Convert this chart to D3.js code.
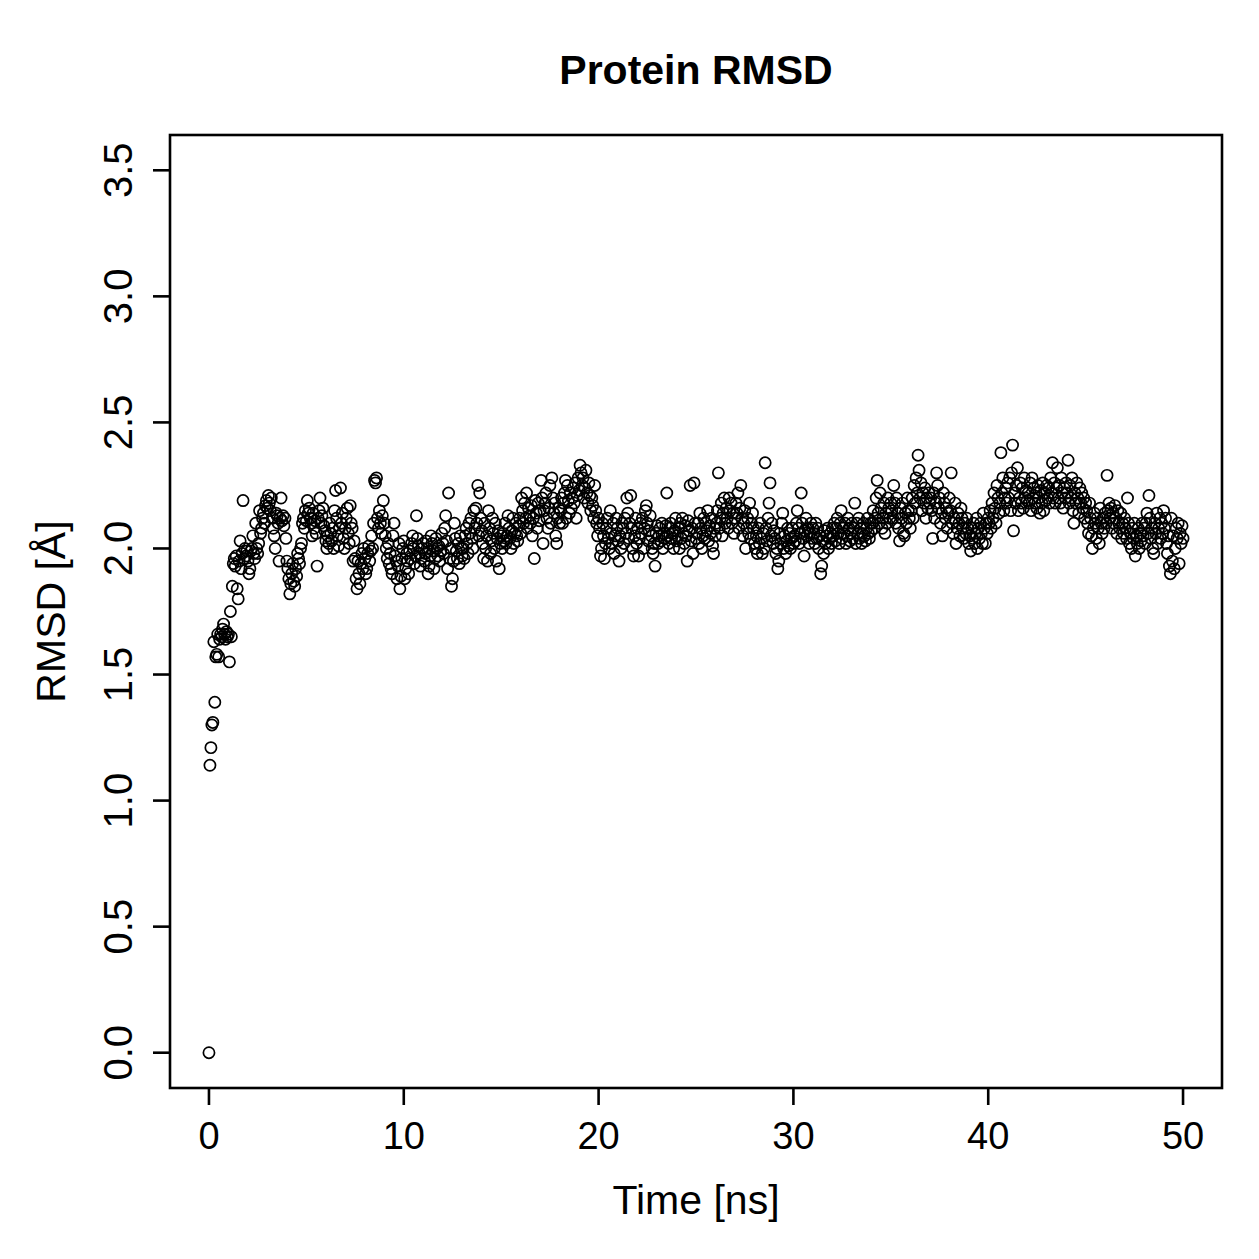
<!DOCTYPE html>
<html><head><meta charset="utf-8">
<script src="https://cdn.jsdelivr.net/npm/d3@7"></script>
<style>body{margin:0;background:#fff}svg{display:block}text{font-family:"Liberation Sans",Arial,sans-serif;fill:#000}</style>
</head><body>
<svg id="c" width="1259" height="1259"></svg>
<script>
const title = "Protein RMSD";
const xLabel = "Time [ns]";
const yLabel = "RMSD [Å]";
const xTicks = [0, 10, 20, 30, 40, 50];
const yTicks = [0.0, 0.5, 1.0, 1.5, 2.0, 2.5, 3.0, 3.5];
const timeStep = 0.05; // ns between frames
const rmsd = [0.00,
1.14,1.21,1.30,1.31,1.63,1.39,1.57,1.58,1.66,1.57,1.64,1.66,1.65,1.68,1.70,1.66,1.64,1.67,1.65,1.66,
1.55,1.75,1.65,1.85,1.94,1.96,1.93,1.97,1.84,1.80,1.95,2.03,1.92,1.98,2.19,1.96,2.00,1.97,1.99,1.95,
1.90,1.92,1.99,2.00,2.05,1.98,1.96,2.10,2.00,1.98,2.02,2.15,2.06,2.08,2.12,2.14,2.10,2.17,2.19,2.16,
2.21,2.18,2.15,2.20,2.12,2.08,2.05,2.00,2.14,2.13,2.10,1.95,2.12,2.20,2.11,2.13,2.09,2.12,2.04,1.95,
1.92,1.88,1.82,1.86,1.90,1.94,1.87,1.85,1.92,1.89,1.98,1.96,1.94,2.00,2.02,2.10,2.12,2.08,2.15,2.11,
2.19,2.14,2.16,2.12,2.10,2.05,2.14,2.08,2.11,2.06,1.93,2.12,2.15,2.20,2.10,2.13,2.16,2.09,2.07,2.03,
2.00,2.05,2.02,2.10,2.06,2.03,2.08,2.00,2.15,2.23,2.12,2.05,2.01,2.08,2.24,2.10,2.14,2.04,2.00,2.08,
2.12,2.16,2.06,2.02,2.17,2.10,2.08,1.95,2.03,1.96,1.88,1.84,1.95,1.90,1.86,1.94,1.98,1.92,2.00,1.96,
1.90,1.92,1.98,2.01,1.95,1.99,2.05,2.00,2.10,2.27,2.26,2.28,2.12,2.08,2.15,2.10,2.06,2.13,2.19,2.10,
2.05,2.00,1.96,2.02,1.94,1.98,1.92,1.90,2.05,2.10,1.97,1.95,1.88,1.93,2.02,1.84,1.89,1.96,2.00,2.03,
1.88,1.92,1.98,1.95,1.90,1.99,1.96,2.02,2.05,2.00,1.94,1.97,2.13,2.04,2.01,1.98,1.93,1.96,2.00,2.02,
1.95,1.98,2.03,2.00,1.90,1.93,1.97,2.05,2.02,1.99,1.92,1.96,2.04,2.00,1.97,2.01,1.95,1.99,2.06,2.02,
1.98,2.08,2.13,2.03,1.92,2.22,1.96,2.00,1.85,1.88,1.95,2.10,2.04,1.99,1.96,2.02,1.94,2.05,2.00,1.97,
2.00,1.96,2.05,2.08,2.02,1.98,2.10,2.06,2.12,2.04,2.00,2.15,2.08,2.16,2.10,2.25,2.05,2.22,2.12,2.07,
2.02,1.96,2.10,2.00,2.05,1.95,2.15,2.08,1.98,2.03,2.12,2.06,2.00,2.10,1.95,2.04,2.07,1.92,2.02,2.05,
2.00,2.06,2.03,2.10,2.02,2.05,2.13,2.08,2.04,2.00,2.07,2.12,2.02,2.06,2.10,2.05,2.03,2.09,2.12,2.06,
2.20,2.15,2.10,2.18,2.12,2.22,2.08,2.16,2.13,2.10,2.17,2.05,2.12,1.96,2.19,2.14,2.08,2.18,2.11,2.15,
2.27,2.20,2.02,2.15,2.18,2.22,2.12,2.08,2.16,2.25,2.10,2.28,2.20,2.14,2.18,2.05,2.02,2.12,2.16,2.10,
2.15,2.20,2.10,2.18,2.22,2.27,2.12,2.25,2.19,2.14,2.22,2.16,2.20,2.24,2.18,2.26,2.12,2.21,2.28,2.23,
2.33,2.30,2.25,2.28,2.20,2.24,2.31,2.22,2.18,2.26,2.21,2.15,2.20,2.17,2.12,2.25,2.15,2.10,2.05,2.12,
2.08,1.97,2.00,2.10,2.05,1.96,2.02,2.08,2.12,2.04,2.00,2.15,2.06,2.02,2.10,1.98,2.05,2.12,2.08,2.03,
1.95,2.05,2.00,2.10,2.08,2.02,2.12,2.06,2.20,2.14,2.04,2.10,2.21,2.08,2.00,1.97,2.05,2.12,2.02,2.08,
1.97,2.04,2.10,2.06,2.12,2.00,2.08,2.15,2.17,2.10,2.03,2.07,2.13,2.05,2.00,1.98,2.02,1.93,2.06,2.09,
2.02,2.05,2.08,2.03,2.10,2.00,2.06,2.04,2.09,2.22,2.05,2.02,2.08,2.10,2.04,2.06,2.00,2.07,2.12,2.03,
2.05,2.08,2.00,2.10,2.04,2.12,2.06,2.02,2.09,2.05,1.95,2.11,2.07,2.25,2.03,2.08,1.98,2.26,2.10,2.04,
2.06,2.10,2.02,2.14,2.08,2.00,2.05,2.12,2.04,2.10,2.07,2.15,2.03,2.09,2.06,2.12,2.01,1.98,2.08,2.05,
2.10,2.15,2.30,2.08,2.12,2.18,2.05,2.14,2.20,2.10,2.16,2.12,2.08,2.20,2.15,2.18,2.10,2.14,2.06,2.12,
2.18,2.14,2.22,2.08,2.16,2.25,2.12,2.05,2.10,2.15,2.00,2.08,2.12,2.06,2.18,2.04,2.10,2.14,2.08,2.02,
2.00,2.05,1.98,2.08,2.02,2.10,2.04,1.98,2.06,2.00,2.34,2.08,2.03,2.12,2.18,2.26,2.05,2.10,2.02,2.07,
2.04,1.98,2.00,1.92,1.95,2.06,2.02,2.10,2.14,2.00,2.05,1.98,2.03,2.08,2.01,2.06,2.00,2.04,2.08,2.02,
2.05,2.03,2.10,2.15,2.08,2.02,2.06,2.22,2.10,2.04,1.97,2.07,2.12,2.05,2.08,2.02,2.06,2.10,2.04,2.08,
2.06,2.02,2.10,2.04,2.08,2.00,2.05,1.90,1.93,2.03,1.98,2.07,2.02,2.05,2.08,2.00,2.04,2.06,2.02,2.08,
2.05,2.10,2.03,2.08,2.12,2.06,2.02,2.10,2.15,2.04,2.08,2.06,2.10,2.02,2.05,2.12,2.08,2.03,2.06,2.10,
2.04,2.08,2.18,2.02,2.10,2.06,2.12,2.04,2.08,2.02,2.06,2.10,2.05,2.03,2.08,2.12,2.06,2.04,2.10,2.07,
2.10,2.15,2.08,2.12,2.20,2.27,2.14,2.10,2.22,2.16,2.08,2.12,2.18,2.06,2.14,2.10,2.20,2.16,2.12,2.18,
2.15,2.12,2.25,2.18,2.10,2.20,2.14,2.08,2.03,2.16,2.12,2.18,2.06,2.05,2.14,2.10,2.20,2.15,2.12,2.08,
2.15,2.20,2.12,2.25,2.18,2.28,2.22,2.37,2.31,2.20,2.26,2.15,2.22,2.18,2.24,2.12,2.20,2.16,2.22,2.18,
2.20,2.15,2.04,2.22,2.12,2.18,2.30,2.25,2.16,2.20,2.10,2.14,2.05,2.22,2.18,2.12,2.16,2.08,2.14,2.20,
2.15,2.30,2.10,2.06,2.12,2.18,2.02,2.08,2.14,2.10,2.05,2.16,2.12,2.08,2.04,2.10,2.06,2.12,2.08,2.02,
2.05,1.99,2.08,2.04,2.10,2.02,2.06,2.12,2.00,2.08,2.04,2.10,2.06,2.02,2.14,2.08,2.02,2.10,2.06,2.12,
2.10,2.15,2.08,2.18,2.12,2.22,2.16,2.10,2.25,2.20,2.14,2.18,2.38,2.22,2.28,2.15,2.20,2.24,2.18,2.26,
2.20,2.28,2.15,2.30,2.41,2.07,2.22,2.18,2.25,2.32,2.15,2.20,2.26,2.18,2.24,2.16,2.28,2.20,2.23,2.19,
2.22,2.18,2.26,2.15,2.28,2.20,2.24,2.18,2.22,2.16,2.25,2.20,2.14,2.23,2.18,2.26,2.15,2.22,2.19,2.25,
2.20,2.24,2.18,2.28,2.22,2.34,2.20,2.26,2.18,2.24,2.32,2.20,2.25,2.18,2.28,2.22,2.16,2.24,2.20,2.26,
2.22,2.35,2.18,2.25,2.20,2.28,2.15,2.10,2.22,2.18,2.26,2.20,2.14,2.24,2.18,2.22,2.16,2.20,2.12,2.18,
2.15,2.10,2.06,2.18,2.12,2.05,2.00,2.08,2.14,2.10,2.04,2.12,2.08,2.02,2.16,2.10,2.06,2.12,2.08,2.14,
2.10,2.29,2.15,2.18,2.12,2.16,2.08,2.14,2.10,2.17,2.12,2.06,2.15,2.10,2.08,2.14,2.04,2.10,2.06,2.12,
2.08,2.04,2.20,2.10,2.02,2.06,2.00,2.08,2.04,2.10,1.97,2.05,2.02,2.08,2.00,2.06,2.03,2.10,2.05,2.08,
2.02,2.10,2.14,2.06,2.21,2.12,2.04,2.08,2.00,1.98,2.10,2.06,2.14,2.02,2.08,2.12,2.04,2.10,2.06,2.15,
2.08,2.12,2.02,1.98,2.05,1.93,1.90,2.12,1.95,2.05,1.92,2.00,2.08,2.04,2.10,1.94,2.06,2.02,2.09,2.04
];
const times = rmsd.map((_, i) => +(i * timeStep).toFixed(2));

const svg = d3.select("#c");
const L = 170, R = 1222, T = 135, B = 1088;
const x = d3.scaleLinear().domain([-2, 52]).range([L, R]);
const y = d3.scaleLinear().domain([-0.14, 3.64]).range([B, T]);
const lw = 2.6, tickLen = 17;

// points
svg.append("g").selectAll("circle").data(rmsd).join("circle")
  .attr("cx", (d, i) => x(times[i])).attr("cy", d => y(d))
  .attr("r", 5.6).attr("fill", "none").attr("stroke", "#000").attr("stroke-width", 1.7);

// box
svg.append("rect").attr("x", L).attr("y", T).attr("width", R - L).attr("height", B - T)
  .attr("fill", "none").attr("stroke", "#000").attr("stroke-width", lw);

// x axis
const xa = svg.append("g");
xa.selectAll("line.t").data(xTicks).join("line").attr("class","t")
  .attr("x1", d => x(d)).attr("x2", d => x(d)).attr("y1", B).attr("y2", B + tickLen)
  .attr("stroke", "#000").attr("stroke-width", lw);
xa.selectAll("text").data(xTicks).join("text")
  .attr("x", d => x(d)).attr("y", 1149).attr("text-anchor", "middle")
  .attr("font-size", 38).text(d => d);

// y axis
const ya = svg.append("g");
ya.selectAll("line.t").data(yTicks).join("line").attr("class","t")
  .attr("x1", L - tickLen).attr("x2", L).attr("y1", d => y(d)).attr("y2", d => y(d))
  .attr("stroke", "#000").attr("stroke-width", lw);
ya.selectAll("text").data(yTicks).join("text")
  .attr("transform", d => `translate(132,${y(d)}) rotate(-90)`)
  .attr("text-anchor", "middle").attr("font-size", 40).text(d => d.toFixed(1));

// labels
svg.append("text").attr("x", (L + R) / 2).attr("y", 84).attr("text-anchor", "middle")
  .attr("font-size", 41).attr("font-weight", "bold").text(title);
svg.append("text").attr("x", (L + R) / 2).attr("y", 1214).attr("text-anchor", "middle")
  .attr("font-size", 41).text(xLabel);
svg.append("text").attr("transform", `translate(65,${(T + B) / 2}) rotate(-90)`)
  .attr("text-anchor", "middle").attr("font-size", 41).text(yLabel);
</script>
</body></html>
